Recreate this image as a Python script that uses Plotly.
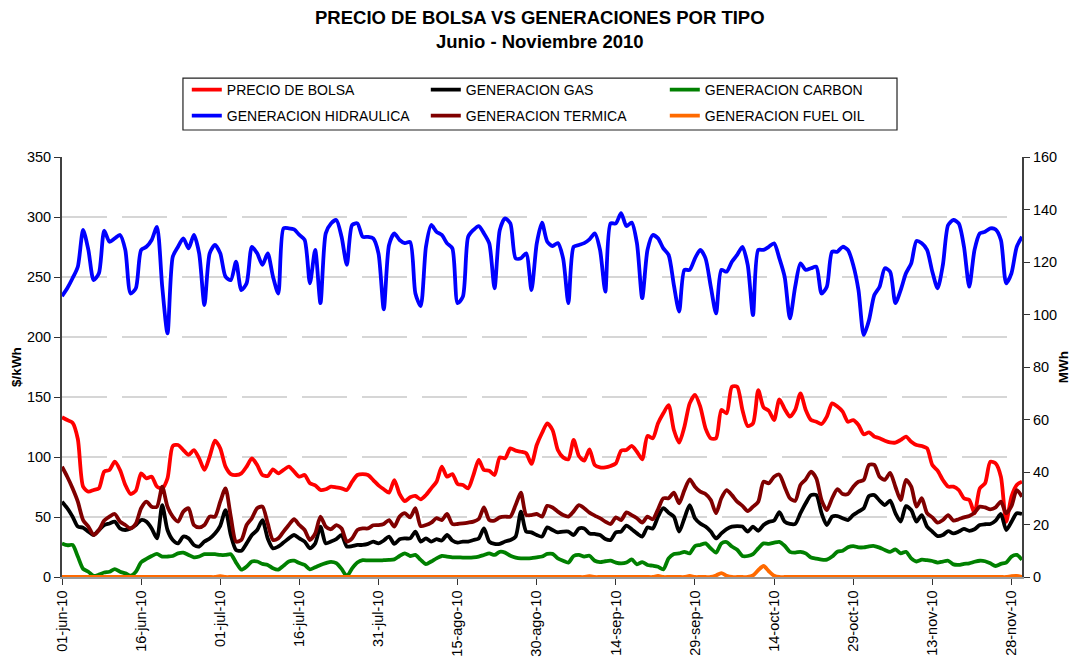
import pandas as pd
import plotly.graph_objects as go

# ---------------- data ----------------
fechas = pd.date_range("2010-06-01", "2010-11-30", freq="D")

tick_fechas = ["2010-06-01", "2010-06-16", "2010-07-01", "2010-07-16", "2010-07-31",
               "2010-08-15", "2010-08-30", "2010-09-14", "2010-09-29", "2010-10-14",
               "2010-10-29", "2010-11-13", "2010-11-28"]
tick_textos = ["01-jun-10", "16-jun-10", "01-jul-10", "16-jul-10", "31-jul-10",
               "15-ago-10", "30-ago-10", "14-sep-10", "29-sep-10", "14-oct-10",
               "29-oct-10", "13-nov-10", "28-nov-10"]

# $/kWh (left axis)
precio_bolsa = [
    133.1, 130.8, 128.6, 115.0, 75.3, 71.1, 72.5, 73.9, 87.8, 89.2,
    96.1, 89.2, 76.7, 69.2, 72.0, 86.4, 82.2, 83.6, 75.3, 73.9,
    82.2, 109.2, 110.0, 105.8, 101.7, 105.8, 98.9, 89.2, 100.3, 113.6,
    107.2, 92.0, 85.8, 85.0, 86.4, 92.0, 98.9, 93.3, 85.0, 84.2,
    89.7, 86.4, 89.2, 92.0, 87.8, 83.6, 85.0, 78.1, 76.4, 72.5,
    73.1, 75.3, 74.7, 73.9, 72.5, 79.4, 85.0, 85.8, 85.0, 80.8,
    76.4, 73.1, 70.3, 80.8, 69.2, 63.3, 66.4, 67.5, 64.7, 68.3,
    73.9, 79.4, 92.0, 83.6, 85.8, 77.5, 76.7, 73.9, 85.0, 97.5,
    89.2, 88.6, 85.0, 99.7, 98.9, 107.2, 105.3, 104.4, 103.1, 94.2,
    110.0, 120.0, 128.1, 122.5, 105.8, 99.7, 98.1, 114.2, 100.8, 97.0,
    106.4, 93.3, 91.4, 91.4, 92.5, 94.7, 105.3, 105.8, 109.2, 104.4,
    98.1, 117.5, 115.6, 128.1, 136.4, 143.3, 122.5, 112.0, 125.3, 144.7,
    151.7, 142.0, 123.9, 115.6, 115.6, 139.2, 136.4, 158.6, 158.6, 139.2,
    125.8, 128.1, 155.8, 141.4, 138.6, 130.8, 148.0, 140.0, 133.6, 139.2,
    153.1, 139.2, 130.8, 129.4, 127.5, 133.6, 144.7, 142.0, 137.8, 129.4,
    130.8, 126.7, 118.9, 120.6, 117.0, 115.6, 113.6, 112.2, 112.0, 114.2,
    117.0, 112.8, 110.0, 109.2, 107.2, 93.3, 88.6, 80.8, 75.3, 75.3,
    72.5, 65.6, 64.2, 53.1, 73.9, 78.1, 96.1, 94.7, 83.6, 46.0,
    67.0, 76.7, 79.4,
]

# MWh (right axis)
gen_hidraulica = [
    107.0, 110.0, 113.8, 118.2, 132.2, 124.6, 113.1, 115.7, 131.9, 127.7,
    129.0, 130.3, 124.6, 108.0, 110.0, 124.6, 125.8, 128.4, 133.4, 110.6,
    92.8, 122.0, 125.8, 129.0, 125.2, 130.3, 123.3, 103.6, 123.3, 126.5,
    123.3, 114.4, 113.1, 120.1, 109.3, 111.9, 125.8, 123.3, 118.9, 123.3,
    114.4, 108.0, 132.8, 132.8, 132.4, 130.3, 128.4, 111.9, 124.6, 104.3,
    130.9, 134.7, 136.0, 129.6, 118.9, 134.1, 134.7, 129.6, 129.6, 129.0,
    123.3, 102.0, 126.5, 130.9, 128.4, 127.2, 127.6, 108.0, 103.2, 125.8,
    134.1, 131.5, 130.3, 127.1, 125.2, 104.3, 106.8, 129.6, 132.2, 133.7,
    130.9, 127.1, 110.0, 132.2, 136.6, 134.7, 121.4, 121.4, 123.3, 109.3,
    127.0, 135.0, 127.7, 126.1, 127.2, 121.4, 104.3, 125.8, 126.5, 127.2,
    128.6, 130.9, 124.6, 108.7, 134.7, 134.7, 138.6, 133.7, 135.0, 127.1,
    106.2, 124.6, 130.3, 129.0, 125.2, 122.7, 111.2, 101.1, 117.0, 117.0,
    121.4, 124.6, 121.4, 110.6, 100.4, 117.0, 116.3, 120.1, 122.7, 125.8,
    118.9, 99.8, 124.6, 124.6, 125.8, 127.1, 121.4, 114.4, 98.5, 110.6,
    119.5, 117.0, 117.6, 118.2, 108.0, 110.6, 123.9, 123.9, 125.8, 124.6,
    118.9, 109.3, 92.2, 97.9, 107.4, 110.6, 117.6, 116.3, 104.3, 109.3,
    115.7, 119.5, 128.0, 127.1, 124.6, 116.3, 110.0, 118.9, 134.1, 136.0,
    134.7, 125.8, 110.6, 124.6, 130.9, 131.5, 132.8, 132.4, 128.4, 111.9,
    115.7, 125.8, 129.6,
]

gen_gas = [
    28.7, 26.2, 23.0, 19.2, 18.8, 17.3, 16.0, 17.9, 19.8, 20.4,
    21.1, 18.5, 17.9, 18.5, 19.8, 21.7, 21.1, 18.5, 14.7, 27.4,
    17.9, 14.1, 12.8, 15.4, 14.7, 12.2, 11.6, 13.5, 14.7, 16.6,
    19.5, 25.5, 16.0, 10.3, 10.0, 12.8, 16.0, 17.9, 21.7, 14.7,
    10.9, 11.6, 13.1, 14.7, 16.0, 14.7, 13.5, 10.9, 12.8, 19.2,
    12.8, 13.5, 14.4, 16.0, 11.6, 11.8, 12.2, 12.2, 12.6, 13.5,
    12.8, 13.9, 15.4, 12.6, 14.4, 14.7, 14.7, 17.3, 13.5, 14.7,
    13.5, 14.4, 13.9, 16.0, 13.9, 13.1, 13.5, 13.5, 14.1, 14.7,
    18.5, 13.5, 12.6, 12.6, 13.5, 14.1, 15.4, 24.9, 17.3, 17.0,
    16.0, 15.4, 18.9, 17.9, 17.0, 17.3, 17.3, 16.0, 18.5, 18.5,
    16.6, 16.4, 16.0, 14.5, 14.1, 17.0, 17.3, 19.6, 18.2, 16.6,
    15.4, 18.9, 18.5, 23.0, 26.2, 24.5, 23.0, 17.3, 22.4, 27.4,
    22.4, 20.4, 19.2, 17.3, 14.7, 16.6, 18.2, 19.2, 19.4, 19.2,
    17.3, 19.2, 17.6, 19.8, 21.0, 21.5, 24.7, 21.1, 20.2, 20.2,
    24.3, 28.1, 31.2, 31.2, 24.3, 19.8, 23.0, 23.2, 22.4, 21.7,
    23.6, 24.9, 26.2, 30.9, 31.2, 29.1, 27.4, 29.1, 24.3, 21.1,
    27.0, 25.5, 21.1, 23.6, 19.2, 17.3, 15.6, 16.0, 17.5, 16.6,
    17.3, 18.3, 17.6, 18.2, 19.8, 20.1, 20.2, 21.5, 24.0, 17.9,
    21.0, 24.3, 24.0,
]

gen_termica = [
    42.0, 38.2, 33.8, 28.7, 21.7, 19.2, 16.0, 17.9, 21.5, 23.0,
    24.0, 21.1, 19.8, 18.5, 20.4, 26.2, 28.7, 26.8, 26.8, 34.4,
    26.8, 23.0, 21.1, 24.9, 26.2, 19.8, 18.9, 19.8, 23.0, 23.0,
    28.7, 33.8, 23.0, 13.5, 14.1, 19.8, 22.4, 26.2, 26.8, 20.4,
    14.1, 14.7, 17.3, 19.8, 22.0, 19.8, 17.9, 14.1, 16.6, 23.0,
    19.2, 18.2, 19.8, 18.5, 13.5, 14.7, 17.9, 18.5, 18.5, 19.7,
    19.8, 20.2, 21.7, 19.2, 23.0, 24.3, 22.7, 26.2, 19.4, 19.8,
    20.7, 22.4, 21.7, 24.0, 20.2, 20.2, 20.4, 20.7, 21.1, 22.1,
    26.5, 21.7, 21.5, 22.7, 23.0, 23.0, 27.4, 32.1, 23.6, 23.6,
    24.0, 23.0, 27.1, 26.5, 24.9, 23.6, 23.0, 25.0, 27.4, 26.2,
    24.5, 23.4, 22.4, 21.1, 20.2, 22.7, 21.7, 24.6, 23.6, 22.4,
    20.7, 23.0, 22.0, 25.8, 30.0, 30.0, 32.1, 28.1, 33.1, 37.2,
    34.4, 32.5, 31.6, 29.3, 24.3, 30.0, 33.1, 31.2, 28.7, 27.1,
    25.1, 26.8, 28.7, 36.3, 35.7, 38.2, 39.0, 34.4, 30.0, 29.0,
    35.1, 37.2, 40.1, 37.6, 29.3, 25.5, 30.0, 33.5, 31.6, 31.6,
    34.4, 36.3, 37.0, 42.7, 42.7, 38.2, 37.0, 39.7, 34.4, 29.3,
    37.0, 34.4, 26.8, 30.0, 24.3, 22.7, 20.7, 21.7, 23.6, 21.5,
    22.0, 22.7, 23.2, 24.5, 26.8, 26.5, 25.8, 26.5, 28.7, 24.3,
    27.0, 33.1, 30.6,
]

gen_carbon = [
    12.8, 12.1, 12.2, 7.8, 3.1, 2.0, 0.4, 0.9, 1.7, 2.0,
    3.0, 2.0, 1.4, 0.5, 2.0, 5.6, 6.9, 8.0, 8.8, 7.8,
    7.8, 8.0, 9.0, 9.3, 8.4, 7.5, 7.8, 8.7, 8.7, 8.7,
    8.4, 8.4, 8.7, 5.5, 2.8, 4.0, 5.9, 5.9, 5.0, 4.6,
    3.3, 2.8, 4.3, 5.9, 6.2, 5.3, 4.6, 2.9, 3.7, 4.6,
    5.3, 5.8, 5.3, 3.1, 0.3, 3.3, 5.5, 6.4, 6.3, 6.3,
    6.3, 6.4, 6.5, 6.7, 8.0, 9.0, 8.0, 8.4, 6.5, 4.9,
    5.9, 7.1, 8.0, 7.8, 7.5, 7.5, 7.4, 7.4, 7.5, 7.8,
    8.4, 9.0, 8.4, 9.6, 9.3, 8.1, 7.4, 7.1, 7.1, 7.2,
    7.5, 7.8, 8.8, 8.8, 7.1, 6.2, 5.5, 8.0, 8.4, 7.8,
    8.1, 6.2, 5.7, 6.0, 6.2, 5.5, 5.2, 5.5, 6.7, 4.8,
    5.7, 4.6, 4.3, 3.9, 2.9, 7.1, 8.8, 9.0, 9.6, 9.0,
    11.8, 12.2, 12.8, 10.9, 9.3, 12.8, 13.3, 11.6, 10.4, 8.0,
    8.0, 8.7, 10.9, 12.8, 12.6, 13.1, 13.4, 11.9, 9.6, 9.3,
    9.6, 9.0, 7.4, 7.0, 6.6, 6.6, 7.8, 9.6, 10.0, 11.3,
    11.8, 11.3, 11.3, 11.7, 11.8, 11.2, 10.3, 9.6, 10.5, 9.0,
    9.6, 7.1, 5.9, 6.6, 6.4, 6.1, 5.5, 5.9, 6.2, 4.8,
    4.6, 5.0, 5.2, 5.8, 6.2, 6.0, 5.2, 4.2, 5.0, 5.5,
    7.8, 8.4, 6.6,
]

gen_fuel_oil = [
    0, 0, 0, 0, 0, 0, 0, 0, 0, 0,
    0, 0, 0, 0, 0, 0, 0, 0, 0, 0,
    0, 0, 0, 0, 0, 0, 0, 0, 0, 0,
    0.3, 0, 0, 0, 0, 0, 0, 0, 0, 0,
    0, 0, 0, 0, 0, 0, 0, 0, 0, 0,
    0, 0, 0, 0, 0, 0, 0, 0, 0, 0,
    0, 0, 0, 0, 0, 0, 0, 0, 0, 0,
    0, 0, 0, 0, 0, 0, 0, 0, 0, 0,
    0, 0, 0, 0, 0, 0, 0, 0, 0, 0,
    0, 0, 0, 0, 0, 0, 0, 0, 0, 0,
    0.3, 0, 0, 0, 0, 0, 0, 0, 0, 0,
    0, 0, 0, 0.4, 0, 0, 0, 0, 0, 0.4,
    0, 0, 0, 0, 0.6, 1.5, 0.5, 0, 0, 0,
    0, 0.6, 2.6, 4.2, 2.2, 0.5, 0, 0, 0, 0,
    0, 0, 0, 0, 0, 0, 0, 0, 0, 0,
    0, 0, 0, 0, 0, 0, 0, 0, 0, 0,
    0, 0, 0, 0, 0, 0, 0, 0, 0, 0,
    0, 0, 0, 0, 0, 0, 0, 0, 0, 0,
    0.3, 0.4, 0,
]

# ---------------- figure ----------------
FONT = "Liberation Sans, Arial, Helvetica, sans-serif"
LW = 3.8

series = [
    # name, values, colour, axis, legend, rank
    ("GENERACION HIDRAULICA", gen_hidraulica, "#0000FF", "y2", "legend2", 1),
    ("GENERACION CARBON", gen_carbon, "#008000", "y2", "legend", 3),
    ("GENERACION GAS", gen_gas, "#000000", "y2", "legend", 2),
    ("GENERACION TERMICA", gen_termica, "#800000", "y2", "legend2", 2),
    ("GENERACION FUEL OIL", gen_fuel_oil, "#FF6A00", "y2", "legend2", 3),
    ("PRECIO DE BOLSA", precio_bolsa, "#FF0000", "y", "legend", 1),
]

fig = go.Figure()
for name, vals, col, ax, leg, rank in series:
    fig.add_trace(go.Scatter(
        x=fechas, y=vals, name=name, mode="lines", yaxis=ax,
        line=dict(color=col, width=LW, shape="spline", smoothing=0.7),
        legend=leg, legendrank=rank,
    ))

legend_common = dict(
    orientation="h", xanchor="left", yanchor="middle",
    font=dict(family=FONT, size=14, color="#000000"),
    bgcolor="rgba(0,0,0,0)", borderwidth=0,
    entrywidth=194, entrywidthmode="pixels", itemwidth=30,
    traceorder="normal",
)

fig.update_layout(
    width=1077, height=661,
    margin=dict(l=62, r=55, t=157, b=84, autoexpand=False),
    paper_bgcolor="white", plot_bgcolor="white",
    font=dict(family=FONT, size=14, color="#000000"),
    legend=dict(x=0.130, y=1.1595, **legend_common),
    legend2=dict(x=0.130, y=1.0976, **legend_common),
    xaxis=dict(
        type="date", range=["2010-06-01", "2010-11-30"],
        tickvals=tick_fechas, ticktext=tick_textos, tickangle=-90,
        ticks="outside", ticklen=6, tickwidth=1.2, tickcolor="#333333",
        showline=True, linecolor="#9a9a9a", linewidth=1.5,
        showgrid=False, zeroline=False, automargin=False,
        tickfont=dict(family=FONT, size=14.5, color="#000000"),
    ),
    yaxis=dict(
        range=[0, 350], tickmode="linear", tick0=0, dtick=50,
        ticks="outside", ticklen=6, tickwidth=1.2, tickcolor="#333333",
        showline=True, linecolor="#404040", linewidth=2,
        showgrid=True, gridcolor="#d6d6d6", gridwidth=1.5, griddash="45px,15px",
        zeroline=False, automargin=False,
        tickfont=dict(family=FONT, size=14.5, color="#000000"),
        title=dict(text="<b>$/kWh</b>", standoff=2,
                   font=dict(family=FONT, size=13.5, color="#000000")),
    ),
    yaxis2=dict(
        range=[0, 160], tickmode="linear", tick0=0, dtick=20,
        overlaying="y", side="right",
        ticks="outside", ticklen=6, tickwidth=1.2, tickcolor="#333333",
        showline=True, linecolor="#404040", linewidth=2,
        showgrid=False, zeroline=False, automargin=False,
        tickfont=dict(family=FONT, size=14.5, color="#000000"),
        title=dict(text="<b>MWh</b>", standoff=2,
                   font=dict(family=FONT, size=13.5, color="#000000")),
    ),
    shapes=[dict(
        type="rect", xref="paper", yref="paper",
        x0=0.126, x1=0.8698, y0=1.0643, y1=1.188,
        line=dict(color="#222222", width=1.2), fillcolor="rgba(0,0,0,0)",
        layer="below",
    )],
    annotations=[dict(
        text="<b>PRECIO DE BOLSA VS GENERACIONES POR TIPO</b><br><b>Junio - Noviembre 2010</b>",
        xref="paper", yref="paper", x=0.498, y=1.3024,
        xanchor="center", yanchor="middle", showarrow=False,
        font=dict(family=FONT, size=18.5, color="#000000"),
    )],
)

fig.write_html(
    "out.html",
    config={"displayModeBar": False},
    post_script="document.body.style.margin='0px';document.body.style.padding='0px';",
)
